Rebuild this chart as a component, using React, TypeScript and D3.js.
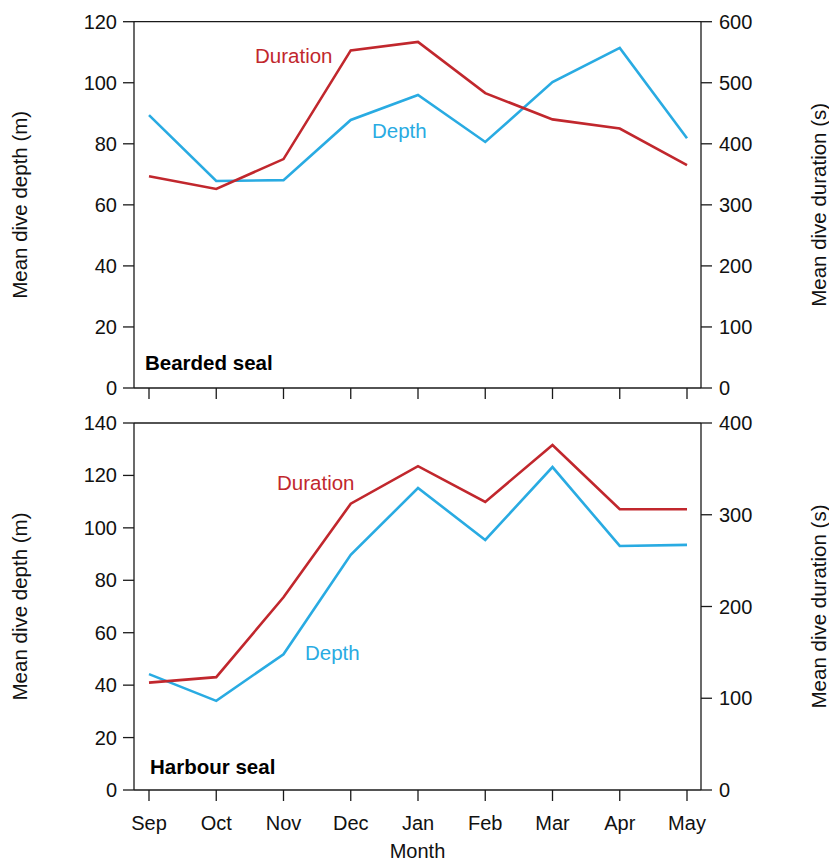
import React from "react";
import * as d3 from "d3";

const months = ["Sep", "Oct", "Nov", "Dec", "Jan", "Feb", "Mar", "Apr", "May"];

const beardedDepth = [89.4, 67.8, 68.1, 87.8, 96.0, 80.6, 100.2, 111.4, 81.8];
const beardedDuration = [347, 326, 375, 553, 567, 483, 440, 425, 365];
const harbourDepth = [44.2, 34.0, 51.8, 89.7, 115.2, 95.4, 123.2, 93.1, 93.5];
const harbourDuration = [117, 123, 210, 312, 353, 314, 376, 306, 306];

const beardedDepthTicks = [0, 20, 40, 60, 80, 100, 120];
const beardedDurationTicks = [0, 100, 200, 300, 400, 500, 600];
const harbourDepthTicks = [0, 20, 40, 60, 80, 100, 120, 140];
const harbourDurationTicks = [0, 100, 200, 300, 400];

const RED = "#c1272d";
const BLUE = "#29abe2";
const AXIS = "#1a1a1a";
const FONT = "'Liberation Sans', Arial, Helvetica, sans-serif";

const X0 = 134;
const X1 = 701;
const TICK = 11;

const x = d3.scalePoint<string>().domain(months).range([149, 687]);

type PanelProps = {
  top: number;
  bottom: number;
  depth: number[];
  duration: number[];
  depthTicks: number[];
  durationTicks: number[];
  title: string;
  titleX: number;
  titleY: number;
  durLabel: [number, number];
  depLabel: [number, number];
  showMonths: boolean;
};

function Panel(p: PanelProps) {
  const yL = d3
    .scaleLinear()
    .domain([0, p.depthTicks[p.depthTicks.length - 1]])
    .range([p.bottom, p.top]);
  const yR = d3
    .scaleLinear()
    .domain([0, p.durationTicks[p.durationTicks.length - 1]])
    .range([p.bottom, p.top]);
  const lineL = d3
    .line<number>()
    .x((_, i) => x(months[i]) as number)
    .y((d) => yL(d));
  const lineR = d3
    .line<number>()
    .x((_, i) => x(months[i]) as number)
    .y((d) => yR(d));
  const mid = (p.top + p.bottom) / 2;
  return (
    <g>
      <line x1={X0} x2={X0} y1={p.top} y2={p.bottom} stroke={AXIS} strokeWidth={1.3} />
      {p.depthTicks.map((t) => (
        <g key={"l" + t}>
          <line x1={X0 - TICK} x2={X0} y1={yL(t)} y2={yL(t)} stroke={AXIS} strokeWidth={1.3} />
          <text x={X0 - 17} y={yL(t)} dy="0.35em" textAnchor="end" fontSize={20} fontFamily={FONT} fill="#111">
            {t}
          </text>
        </g>
      ))}
      <line x1={X1} x2={X1} y1={p.top} y2={p.bottom} stroke={AXIS} strokeWidth={1.3} />
      {p.durationTicks.map((t) => (
        <g key={"r" + t}>
          <line x1={X1} x2={X1 + TICK} y1={yR(t)} y2={yR(t)} stroke={AXIS} strokeWidth={1.3} />
          <text x={X1 + 18} y={yR(t)} dy="0.35em" textAnchor="start" fontSize={20} fontFamily={FONT} fill="#111">
            {t}
          </text>
        </g>
      ))}
      <line x1={X0} x2={X1} y1={p.top} y2={p.top} stroke={AXIS} strokeWidth={1.3} />
      <line x1={X0} x2={X1} y1={p.bottom} y2={p.bottom} stroke={AXIS} strokeWidth={1.3} />
      {months.map((m) => (
        <g key={m}>
          <line
            x1={x(m) as number}
            x2={x(m) as number}
            y1={p.bottom}
            y2={p.bottom + TICK}
            stroke={AXIS}
            strokeWidth={1.3}
          />
          {p.showMonths && (
            <text x={x(m) as number} y={p.bottom + 40} textAnchor="middle" fontSize={20} fontFamily={FONT} fill="#111">
              {m}
            </text>
          )}
        </g>
      ))}
      <path d={lineL(p.depth) || ""} fill="none" stroke={BLUE} strokeWidth={2.6} strokeLinejoin="miter" />
      <path d={lineR(p.duration) || ""} fill="none" stroke={RED} strokeWidth={2.6} strokeLinejoin="miter" />
      <text x={p.durLabel[0]} y={p.durLabel[1]} fontSize={20.5} fontFamily={FONT} fill={RED}>
        Duration
      </text>
      <text x={p.depLabel[0]} y={p.depLabel[1]} fontSize={20.5} fontFamily={FONT} fill={BLUE}>
        Depth
      </text>
      <text x={p.titleX} y={p.titleY} fontSize={20.5} fontWeight="bold" fontFamily={FONT} fill="#000">
        {p.title}
      </text>
      <text
        transform={`translate(27, ${mid}) rotate(-90)`}
        textAnchor="middle"
        fontSize={20.5}
        fontFamily={FONT}
        fill="#111"
      >
        Mean dive depth (m)
      </text>
      <text
        transform={`translate(826, ${mid}) rotate(-90)`}
        textAnchor="middle"
        fontSize={20.5}
        fontFamily={FONT}
        fill="#111"
      >
        Mean dive duration (s)
      </text>
    </g>
  );
}

export default function App() {
  return (
    <svg
      width={829}
      height={864}
      style={{ position: "absolute", left: 0, top: 0, background: "#fff" }}
    >
      <rect width={829} height={864} fill="#fff" />
      <Panel
        top={21.7}
        bottom={388}
        depth={beardedDepth}
        duration={beardedDuration}
        depthTicks={beardedDepthTicks}
        durationTicks={beardedDurationTicks}
        title="Bearded seal"
        titleX={145}
        titleY={370}
        durLabel={[255, 63]}
        depLabel={[372, 138]}
        showMonths={false}
      />
      <Panel
        top={423}
        bottom={790}
        depth={harbourDepth}
        duration={harbourDuration}
        depthTicks={harbourDepthTicks}
        durationTicks={harbourDurationTicks}
        title="Harbour seal"
        titleX={150}
        titleY={774}
        durLabel={[277, 490]}
        depLabel={[305, 660]}
        showMonths={true}
      />
      <text x={(X0 + X1) / 2} y={858} textAnchor="middle" fontSize={20} fontFamily={FONT} fill="#111">
        Month
      </text>
    </svg>
  );
}
